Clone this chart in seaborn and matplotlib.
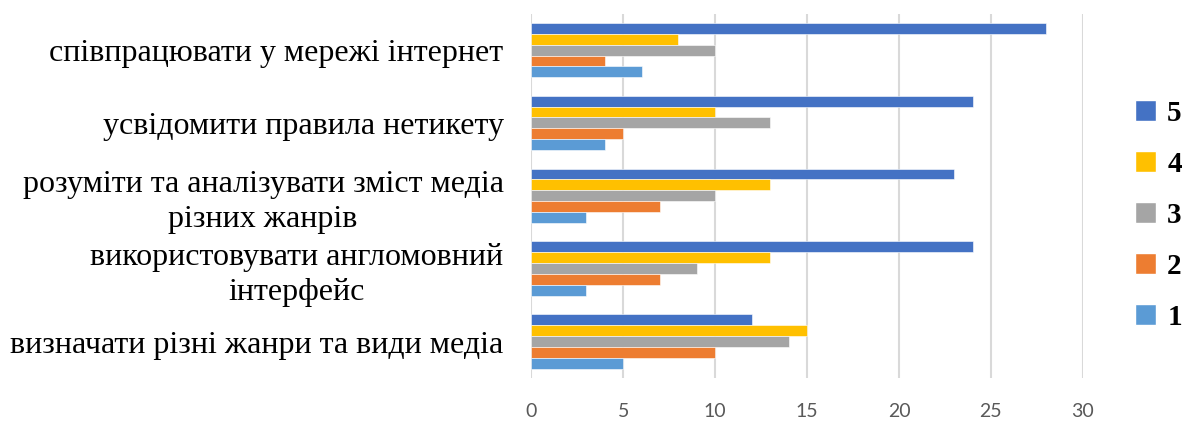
import pandas as pd
import matplotlib.pyplot as plt
import seaborn as sns
from matplotlib.patches import Patch

categories = [
    "співпрацювати у мережі інтернет",
    "усвідомити правила нетикету",
    "розуміти та аналізувати зміст медіа\nрізних жанрів",
    "використовувати англомовний\nінтерфейс",
    "визначати різні жанри та види медіа",
]
levels = ["5", "4", "3", "2", "1"]
vals_5 = [28, 24, 23, 24, 12]
vals_4 = [8, 10, 13, 13, 15]
vals_3 = [10, 13, 10, 9, 14]
vals_2 = [4, 5, 7, 7, 10]
vals_1 = [6, 4, 3, 3, 5]
colors = ["#4472C4", "#FFC000", "#A5A5A5", "#ED7D31", "#5B9BD5"]

rows = []
for lvl, vals in zip(levels, [vals_5, vals_4, vals_3, vals_2, vals_1]):
    for cat, v in zip(categories, vals):
        rows.append({"category": cat, "level": lvl, "value": v})
df = pd.DataFrame(rows)

sns.set_style("white")
fig = plt.figure(figsize=(11.86, 4.24), dpi=100)
ax = fig.add_axes([0.448, 0.108, 0.465, 0.86])

sns.barplot(data=df, y="category", x="value", hue="level", order=categories,
            hue_order=levels, palette=colors, saturation=1, orient="h", width=0.75,
            edgecolor="white", linewidth=0.4, legend=False, ax=ax)

ax.set_xlim(0, 30)
ax.set_xticks(range(0, 31, 5))
ax.xaxis.grid(True, color="#D9D9D9", linewidth=1.5)
ax.set_axisbelow(True)
for s in ax.spines.values():
    s.set_visible(False)
ax.set_xlabel("")
ax.set_ylabel("")
ax.tick_params(axis="x", length=0, pad=18, labelsize=14, labelcolor="#595959")
ax.tick_params(axis="y", length=0, pad=20, labelcolor="black")
for lab in ax.get_xticklabels():
    lab.set_family("Lato")
for lab in ax.get_yticklabels():
    lab.set_family("Liberation Serif")
    lab.set_fontsize(23)
    lab.set_multialignment("center")
    lab.set_linespacing(1.25)

handles = [Patch(facecolor=c, label=l) for c, l in zip(colors, levels)]
fig.legend(handles=handles, loc="center left", bbox_to_anchor=(0.9345, 0.492),
           frameon=False, handlelength=0.72, handleheight=0.72, handletextpad=0.4,
           labelspacing=0.82, labelcolor="black",
           prop={"family": "Liberation Serif", "weight": "bold", "size": 21})

fig.savefig("out.png", dpi=100)
